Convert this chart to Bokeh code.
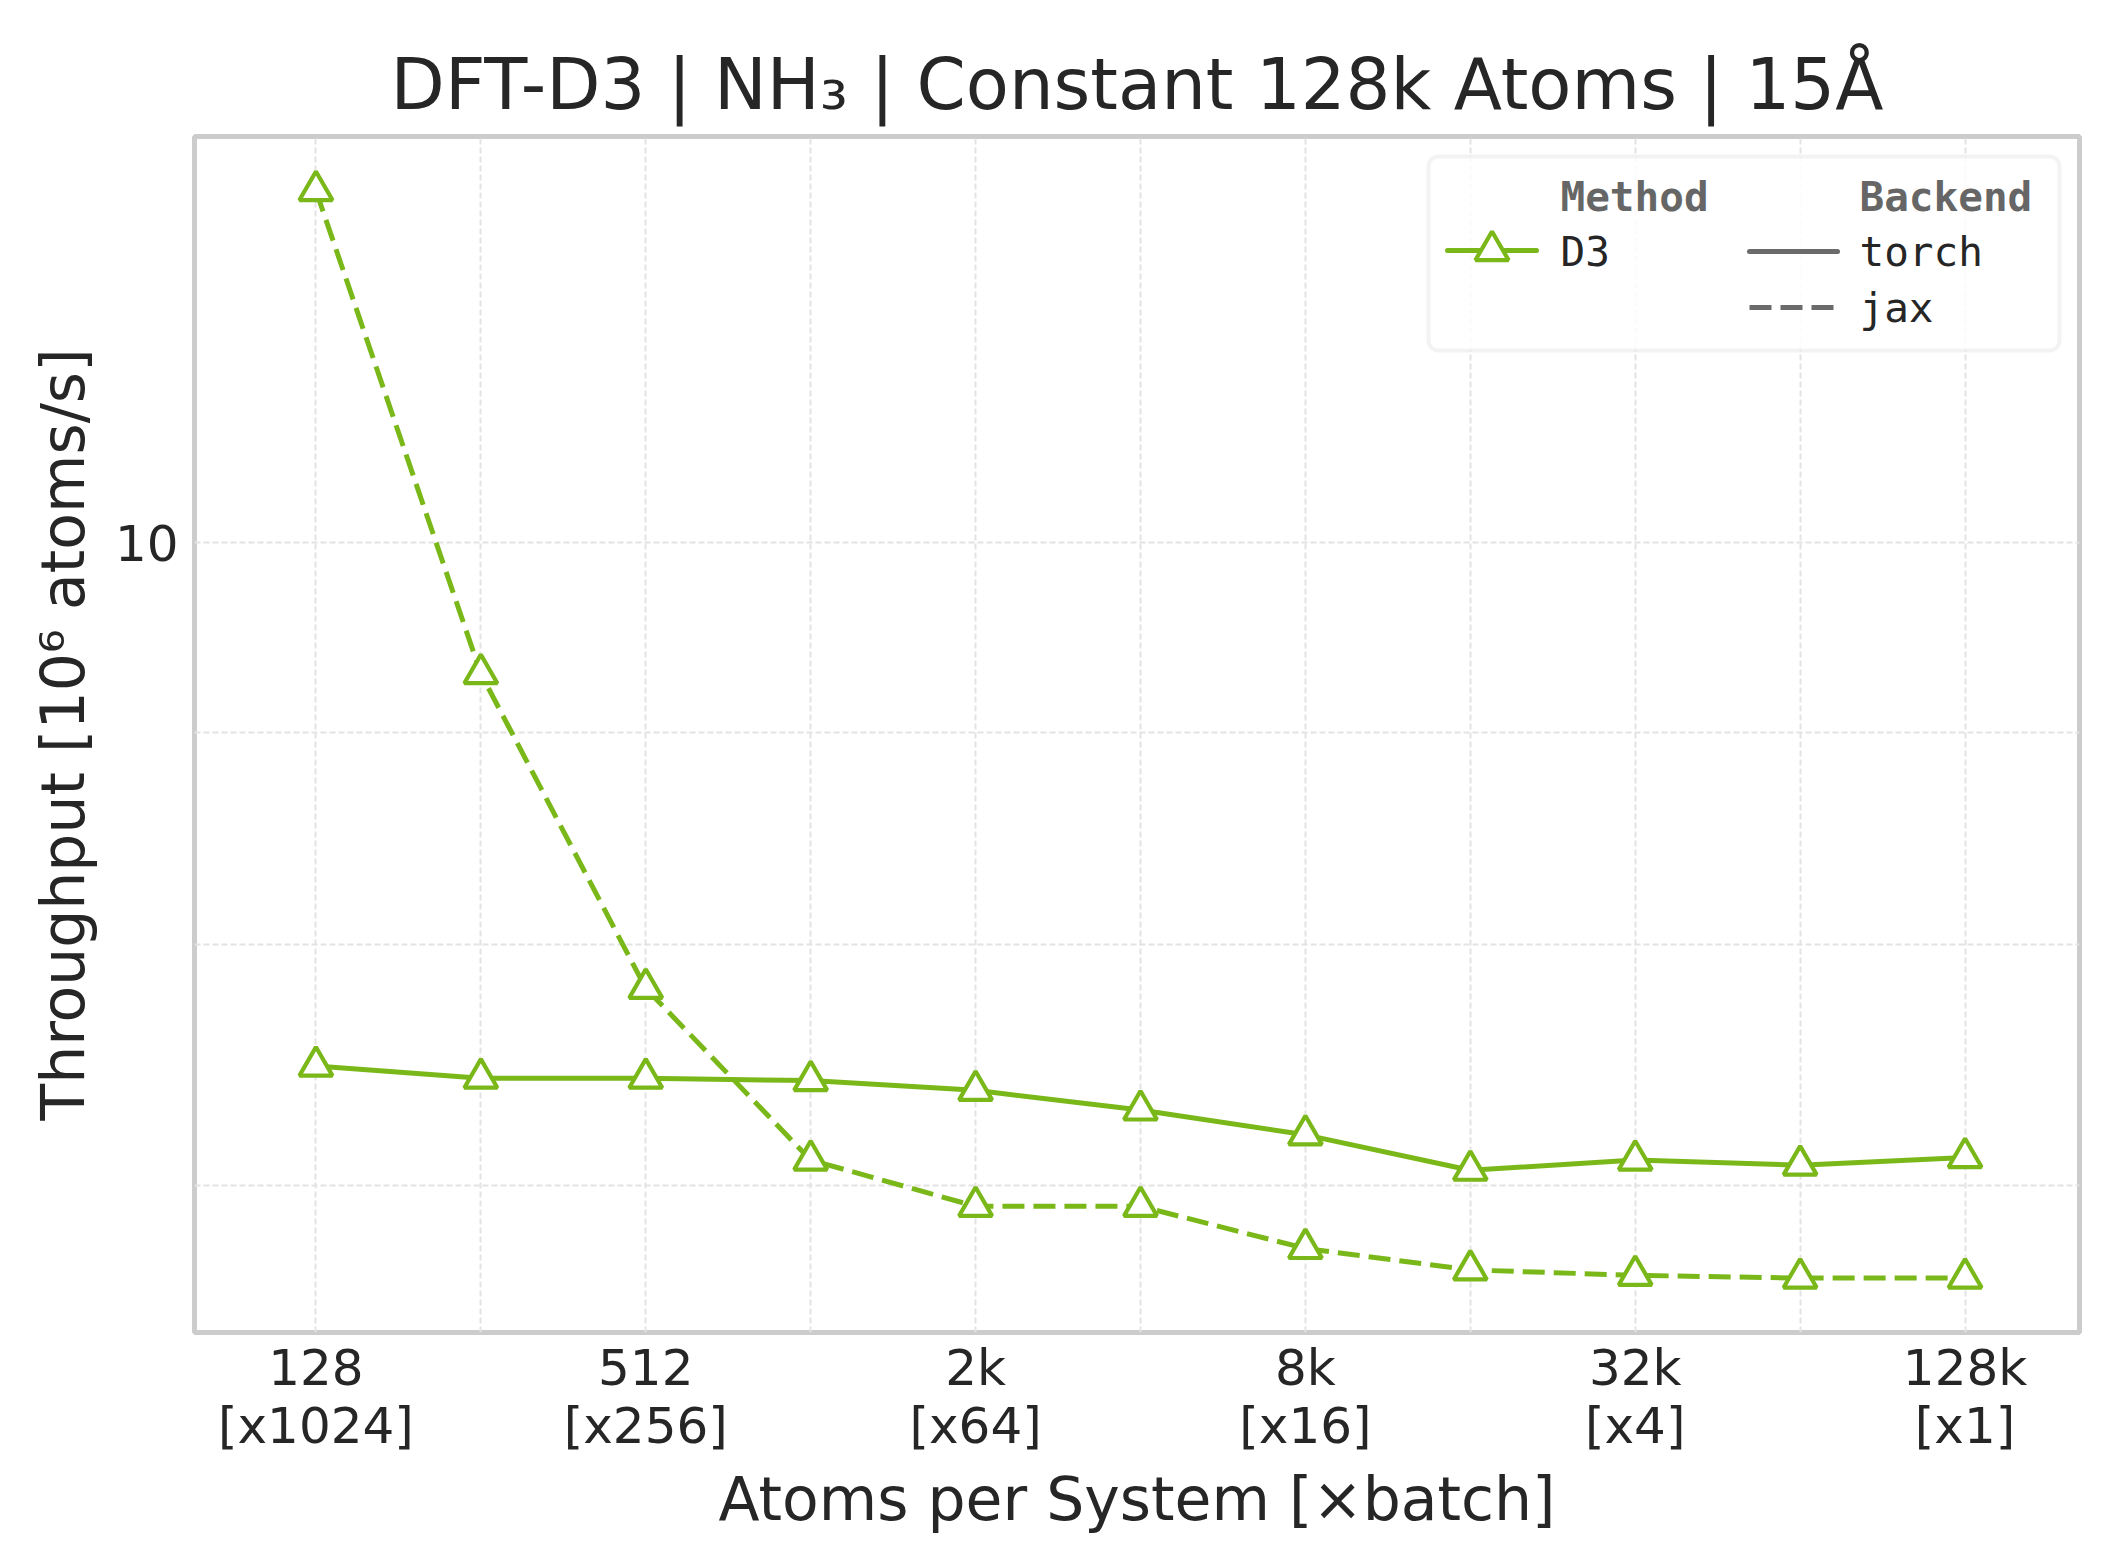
import math
import numpy as np
from bokeh.plotting import figure
from bokeh.models import Range1d, FixedTicker, Label, BoxAnnotation, Arrow
from bokeh.embed import file_html
from bokeh.resources import INLINE

# ---------------- data ----------------
atoms_labels = ["128", "256", "512", "1k", "2k", "4k", "8k", "16k", "32k", "64k", "128k"]
batch_labels = ["x1024", "x512", "x256", "x128", "x64", "x32", "x16", "x8", "x4", "x2", "x1"]
torch_throughput = [7.48, 7.43, 7.43, 7.42, 7.38, 7.30, 7.20, 7.06, 7.10, 7.08, 7.11]
jax_throughput = [12.16, 9.30, 7.81, 7.10, 6.92, 6.92, 6.76, 6.68, 6.66, 6.65, 6.65]
y_major_ticks = [10]
y_minor_ticks = [7, 8, 9]

title_text = "DFT-D3 | NH\u2083 | Constant 128k Atoms | 15\u00c5"
xlabel = "Atoms per System [\u00d7batch]"
ylabel = "Throughput [10\u2076 atoms/s]"

GREEN = "#7ab81a"
GREY_HANDLE = "#6b6b6b"
TEXT = "#262626"
GRID = "#e3e3e3"

x_idx = list(range(len(atoms_labels)))

# ---------------- layout ----------------
FRAME_W, FRAME_H = 1885, 1196
LEFT, TOP = 194, 136
X0, X1 = -0.7364, 10.694
Y0, Y1 = 6.452, 12.53

p = figure(frame_width=FRAME_W, frame_height=FRAME_H,
           min_border_left=LEFT, min_border_top=TOP,
           min_border_right=22, min_border_bottom=213,
           x_range=Range1d(X0, X1), y_range=Range1d(Y0, Y1),
           y_axis_type="log", output_backend="svg", toolbar_location=None,
           title=title_text)

p.background_fill_color = "white"
p.border_fill_color = "white"
p.outline_line_color = "#cccccc"
p.outline_line_width = 5

p.title.align = "center"
p.title.text_font = "DejaVu Sans"
p.title.text_font_size = "70.5px"
p.title.text_font_style = "normal"
p.title.text_color = TEXT
p.title.standoff = 22

# x axis
xt = FixedTicker(ticks=x_idx)
p.xaxis.ticker = xt
p.xgrid.ticker = xt
p.xaxis.major_label_overrides = {
    i: (f"{a}\n[{b}]" if i % 2 == 0 else "")
    for i, (a, b) in enumerate(zip(atoms_labels, batch_labels))
}
# y axis
yt = FixedTicker(ticks=y_major_ticks, minor_ticks=y_minor_ticks)
p.yaxis.ticker = yt
p.ygrid.ticker = yt
p.yaxis.major_label_overrides = {t: str(t) for t in y_major_ticks}

for ax in (p.xaxis[0], p.yaxis[0]):
    ax.axis_line_color = None
    ax.major_tick_line_color = None
    ax.minor_tick_line_color = None
    ax.major_label_text_font = "DejaVu Sans"
    ax.major_label_text_font_size = "50px"
    ax.major_label_text_color = TEXT
    ax.axis_label_text_font = "DejaVu Sans"
    ax.axis_label_text_font_size = "60px"
    ax.axis_label_text_font_style = "normal"
    ax.axis_label_text_color = TEXT

p.xaxis.axis_label = xlabel
p.yaxis.axis_label = ylabel
p.xaxis.major_label_standoff = 0
p.xaxis.major_label_text_line_height = 1.0
p.xaxis.axis_label_standoff = 6
p.yaxis.major_label_standoff = 10
p.yaxis.axis_label_standoff = 14

for g in (p.xgrid[0], p.ygrid[0]):
    g.grid_line_color = GRID
    g.grid_line_width = 2
    g.grid_line_dash = "6 3"
p.ygrid.minor_grid_line_color = GRID
p.ygrid.minor_grid_line_width = 2
p.ygrid.minor_grid_line_dash = "6 3"

# ---------------- data marks ----------------
MSIZE, MLW = 33, 4.2
p.line(x_idx, torch_throughput, line_color=GREEN, line_width=5)
p.line(x_idx, jax_throughput, line_color=GREEN, line_width=5, line_dash="22 9")
p.scatter(x_idx, torch_throughput, marker="triangle", size=MSIZE,
          line_color=GREEN, line_width=MLW, fill_color="white")
p.scatter(x_idx, jax_throughput, marker="triangle", size=MSIZE,
          line_color=GREEN, line_width=MLW, fill_color="white")

# ---------------- legend (screen units, relative to frame bottom-left) ----
REF_LEFT, REF_BOTTOM = 197, 1329   # frame left / bottom in reference pixels

def sx(px):
    return px - REF_LEFT

def sy(py):
    return REF_BOTTOM - py

def to_data(px, py):
    xd = X0 + sx(px) / FRAME_W * (X1 - X0)
    ly = math.log10(Y0) + sy(py) / FRAME_H * (math.log10(Y1) - math.log10(Y0))
    return xd, 10 ** ly

box = BoxAnnotation(left=sx(1431), right=sx(2062), top=sy(153), bottom=sy(347),
                    left_units="screen", right_units="screen",
                    top_units="screen", bottom_units="screen",
                    fill_color="white", fill_alpha=0.85,
                    line_color="#d6d6d6", line_width=4, border_radius=10,
                    level="underlay")
p.add_layout(box)

p.add_layout(Arrow(end=None, x_start=sx(1450), y_start=sy(247), x_end=sx(1539), y_end=sy(247),
                   start_units="screen", end_units="screen",
                   line_color=GREEN, line_width=5, line_cap="round", level="underlay"))
tx, ty = to_data(1494.5, 247)
p.scatter([tx], [ty], marker="triangle", size=MSIZE, line_color=GREEN,
          line_width=MLW, fill_color="white")

p.add_layout(Arrow(end=None, x_start=sx(1752), y_start=sy(248), x_end=sx(1840), y_end=sy(248),
                   start_units="screen", end_units="screen",
                   line_color=GREY_HANDLE, line_width=5, line_cap="round"))
p.add_layout(Arrow(end=None, x_start=sx(1752), y_start=sy(304), x_end=sx(1836), y_end=sy(304),
                   start_units="screen", end_units="screen",
                   line_color=GREY_HANDLE, line_width=5, line_dash="22 9"))

def leg_label(text, px, py, bold=False, color=TEXT):
    p.add_layout(Label(x=sx(px), y=sy(py), x_units="screen", y_units="screen",
                       text=text, text_font="DejaVu Sans Mono", text_font_size="41px",
                       text_font_style="bold" if bold else "normal",
                       text_color=color, text_align="left", text_baseline="middle"))

leg_label("Method", 1563, 193, bold=True, color="#666666")
leg_label("Backend", 1862, 193, bold=True, color="#666666")
leg_label("D3", 1563, 248)
leg_label("torch", 1862, 248)
leg_label("jax", 1862, 304)

open("out.html", "w").write(file_html(p, INLINE))
